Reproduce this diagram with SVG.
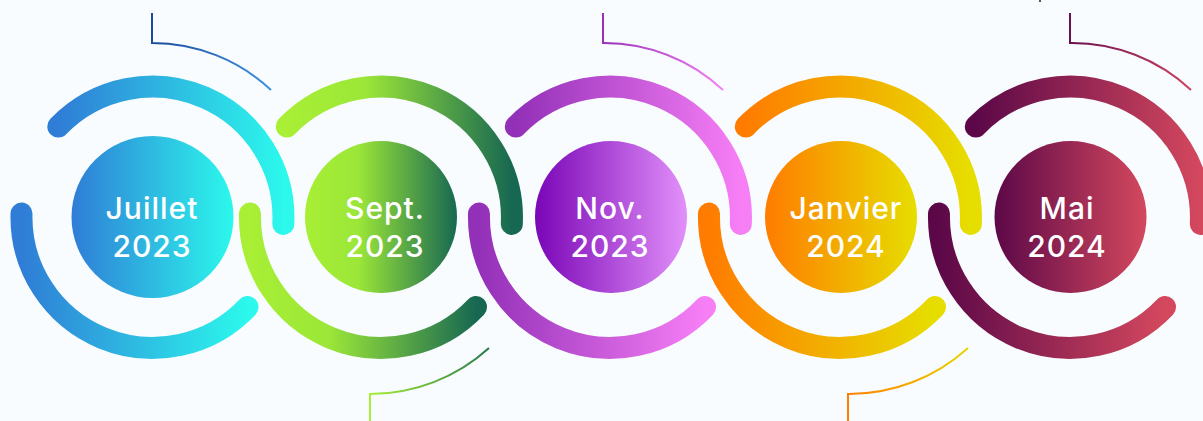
<svg xmlns="http://www.w3.org/2000/svg" width="1203" height="421" viewBox="0 0 1203 421">
<defs>
<linearGradient id="g1" x1="0" y1="0" x2="1" y2="0"><stop offset="0" stop-color="#2f7dd6"/><stop offset="1" stop-color="#2cf8ec"/></linearGradient>
<linearGradient id="g2" x1="0" y1="0" x2="1" y2="0"><stop offset="0" stop-color="#a8ef35"/><stop offset="0.35" stop-color="#9be638"/><stop offset="1" stop-color="#176852"/></linearGradient>
<linearGradient id="g3" x1="0" y1="0" x2="1" y2="0"><stop offset="0" stop-color="#7a05b6"/><stop offset="1" stop-color="#e290fa"/></linearGradient>
<linearGradient id="g3a" x1="0" y1="0" x2="1" y2="0"><stop offset="0" stop-color="#9330b8"/><stop offset="1" stop-color="#f77ff6"/></linearGradient>
<linearGradient id="g4" x1="0" y1="0" x2="1" y2="0"><stop offset="0" stop-color="#ff7c00"/><stop offset="1" stop-color="#e6de00"/></linearGradient>
<linearGradient id="g5" x1="0" y1="0" x2="1" y2="0"><stop offset="0" stop-color="#5c0848"/><stop offset="1" stop-color="#d4485e"/></linearGradient>
<linearGradient id="c1" x1="0" y1="0" x2="1" y2="0"><stop offset="0" stop-color="#1d4b9c"/><stop offset="1" stop-color="#3b92e2"/></linearGradient>
<linearGradient id="c2" x1="0" y1="0" x2="1" y2="0"><stop offset="0" stop-color="#a8ef35"/><stop offset="1" stop-color="#247a48"/></linearGradient>
<linearGradient id="c3" x1="0" y1="0" x2="1" y2="0"><stop offset="0" stop-color="#9a30b8"/><stop offset="1" stop-color="#f282f4"/></linearGradient>
<linearGradient id="c4" x1="0" y1="0" x2="1" y2="0"><stop offset="0" stop-color="#ff7f00"/><stop offset="1" stop-color="#ead400"/></linearGradient>
<linearGradient id="c5" x1="0" y1="0" x2="1" y2="0"><stop offset="0" stop-color="#6a1050"/><stop offset="1" stop-color="#cc4262"/></linearGradient>
</defs>
<style>
.arc{fill:none;stroke-width:22;stroke-linecap:round}
.con{fill:none;stroke-width:2}
.t{fill:#ffffff;font-family:Inter,"Open Sans","Liberation Sans",sans-serif;font-weight:500;font-size:30px;letter-spacing:1px;text-anchor:middle}
</style>
<rect width="1203" height="421" fill="#f8fcfe"/>
<rect x="1039" y="0" width="2" height="2" fill="#555"/>

<g id="connectors">
<path class="con" stroke="url(#c1)" d="M152,13 V43 A174,174 0 0 1 271,90"/>
<path class="con" stroke="url(#c2)" d="M370,421 V394 A177,177 0 0 0 489,348"/>
<path class="con" stroke="url(#c3)" d="M603,13 V43 A174,174 0 0 1 723,90"/>
<path class="con" stroke="url(#c4)" d="M848,421 V394 A177,177 0 0 0 968,348"/>
<path class="con" stroke="url(#c5)" d="M1070,13 V43 A174,174 0 0 1 1191,90"/>
</g>

<g id="node-juillet">
<path class="arc" stroke="url(#g1)" d="M58.3,126.5 A131,131 0 0 1 283.3,223.9"/>
<path class="arc" stroke="url(#g1)" d="M21.5,213.6 A131,131 0 0 0 247.5,307.1"/>
<circle cx="152.5" cy="217" r="81" fill="url(#g1)"/>
<text class="t" x="152" y="219">Juillet</text>
<text class="t" x="152" y="257">2023</text>
</g>

<g id="node-sept">
<path class="arc" stroke="url(#g2)" d="M286.8,126.5 A131,131 0 0 1 511.8,223.9"/>
<path class="arc" stroke="url(#g2)" d="M250,213.6 A131,131 0 0 0 476,307.1"/>
<circle cx="381" cy="217" r="76" fill="url(#g2)"/>
<text class="t" x="385" y="219">Sept.</text>
<text class="t" x="385" y="257">2023</text>
</g>

<g id="node-nov">
<path class="arc" stroke="url(#g3a)" d="M515.8,126.5 A131,131 0 0 1 740.8,223.9"/>
<path class="arc" stroke="url(#g3a)" d="M479,213.6 A131,131 0 0 0 705,307.1"/>
<circle cx="611" cy="217" r="76" fill="url(#g3)"/>
<text class="t" x="610" y="219">Nov.</text>
<text class="t" x="610" y="257">2023</text>
</g>

<g id="node-janvier">
<path class="arc" stroke="url(#g4)" d="M745.8,126.5 A131,131 0 0 1 970.8,223.9"/>
<path class="arc" stroke="url(#g4)" d="M709,213.6 A131,131 0 0 0 935,307.1"/>
<circle cx="841" cy="217" r="76" fill="url(#g4)"/>
<text class="t" x="846" y="219">Janvier</text>
<text class="t" x="846" y="257">2024</text>
</g>

<g id="node-mai">
<path class="arc" stroke="url(#g5)" d="M975.8,126.5 A131,131 0 0 1 1200.8,223.9"/>
<path class="arc" stroke="url(#g5)" d="M939,213.6 A131,131 0 0 0 1165,307.1"/>
<circle cx="1070.5" cy="217" r="76" fill="url(#g5)"/>
<text class="t" x="1067" y="219">Mai</text>
<text class="t" x="1067" y="257">2024</text>
</g>
</svg>
